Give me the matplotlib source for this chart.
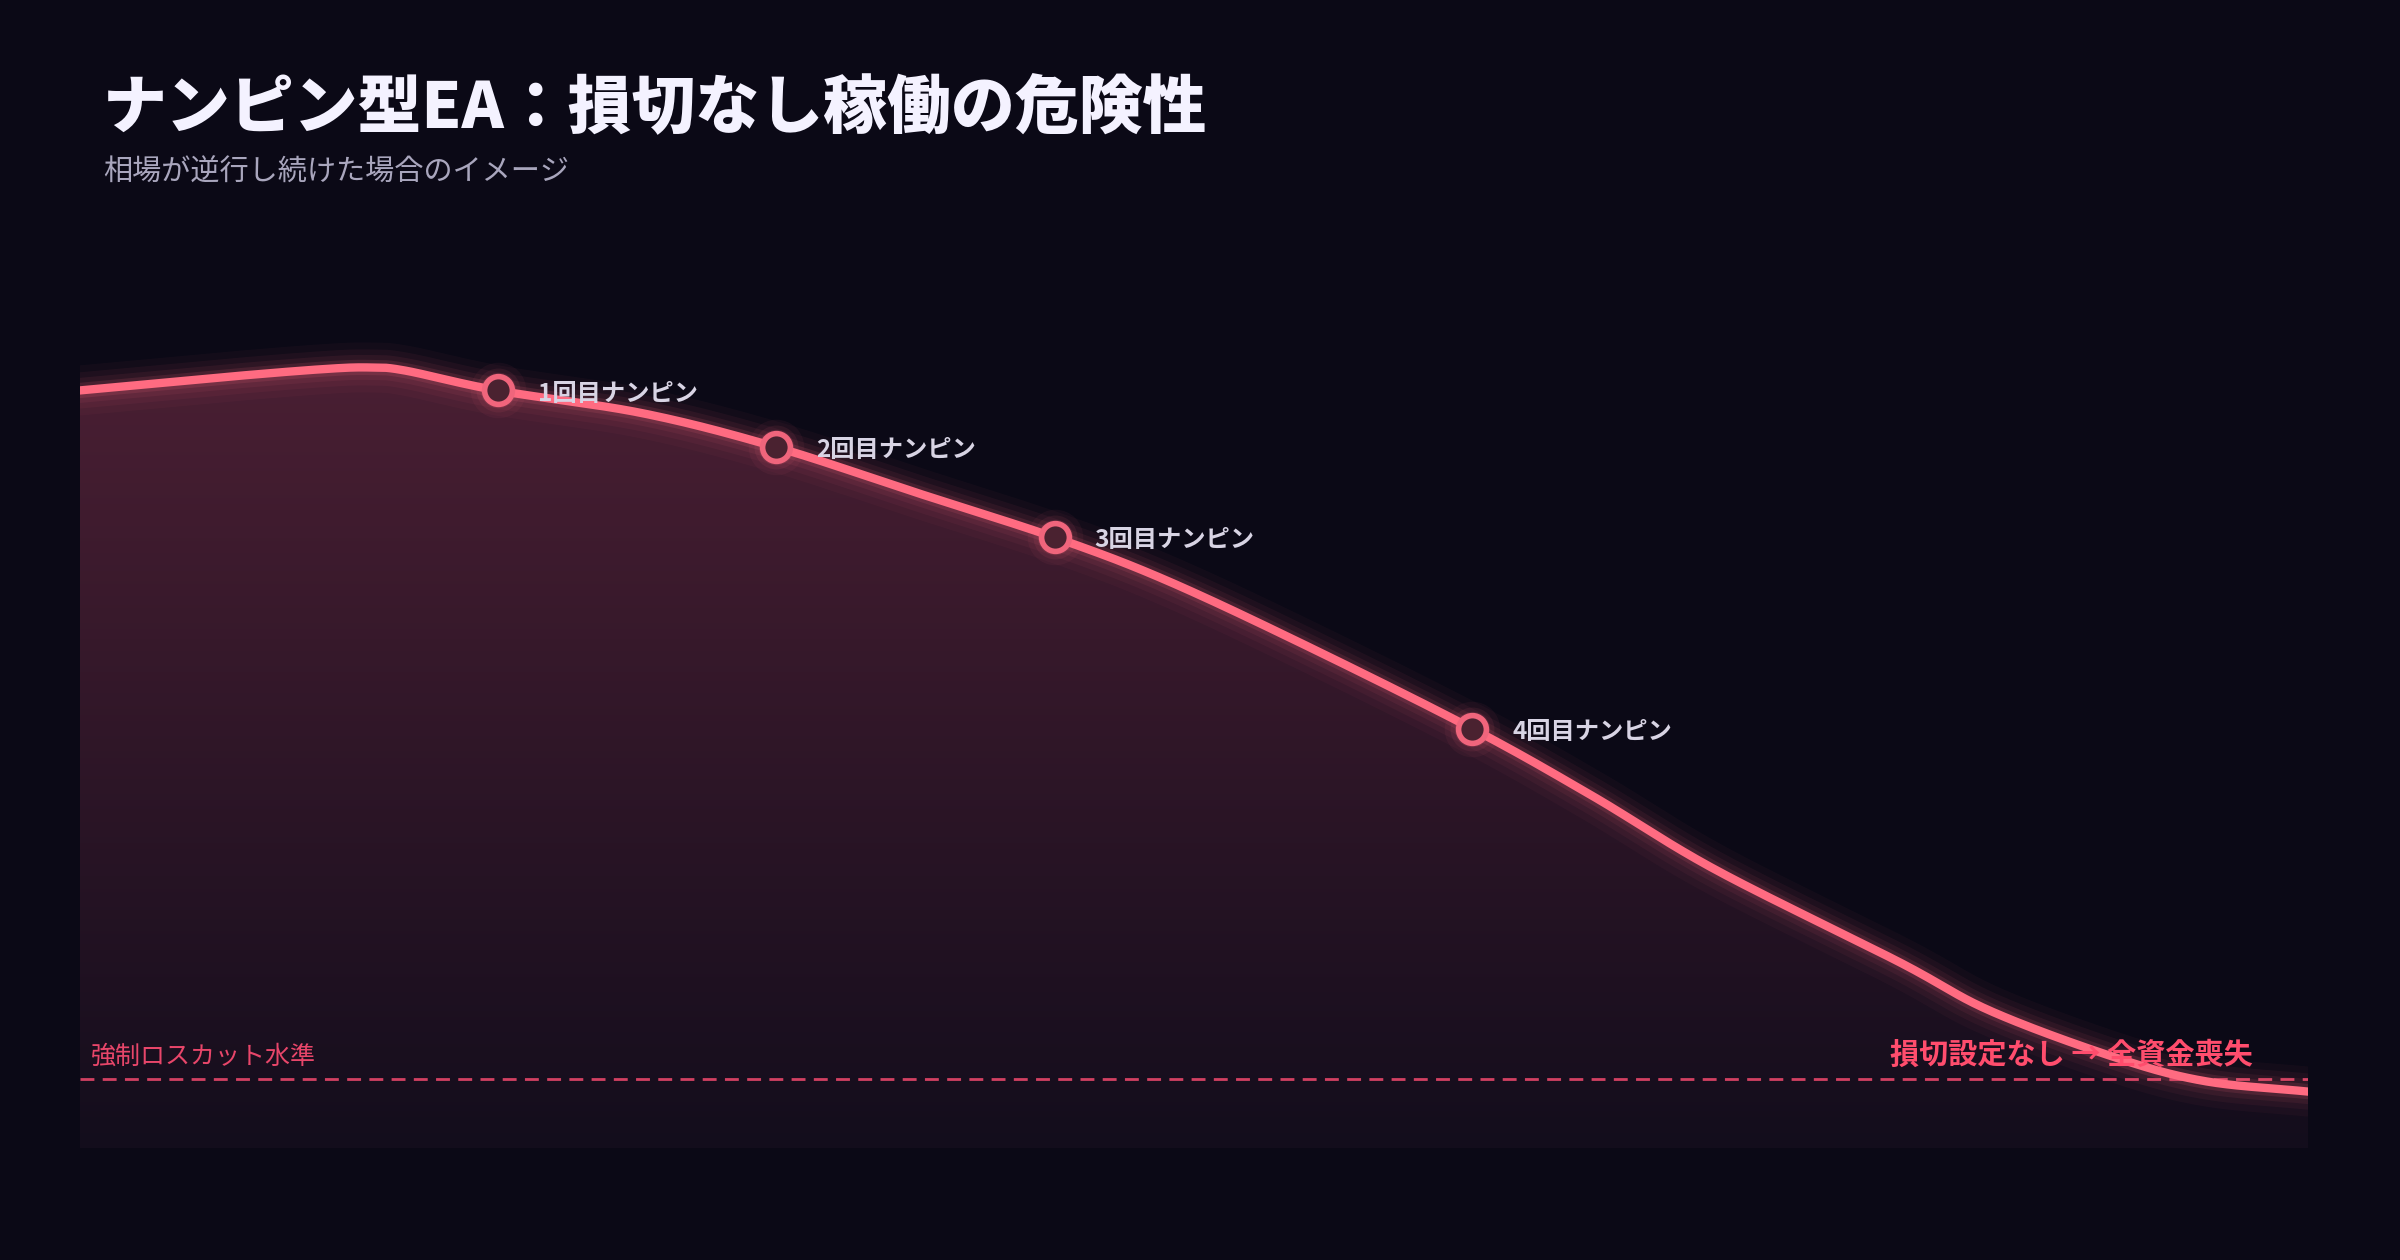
import numpy as np
import matplotlib
matplotlib.use("Agg")
import matplotlib.pyplot as plt
from matplotlib.patches import Polygon
from matplotlib.colors import LinearSegmentedColormap

plt.rcParams['font.family'] = ['Noto Sans CJK JP', 'DejaVu Sans']

days = [0, 6.7, 11.0, 13.0, 14.6, 18.75, 25.3, 31.25, 37.6, 43.75, 48.6, 54.8, 62.5, 67.9, 73.4, 81.6, 85.7, 91.2, 95.3, 100]
balance = [495, 504, 509, 510, 508, 495, 480, 458, 428, 399, 372, 330, 274, 230, 182, 122, 90, 60, 44, 37]
nanpin_idx = [5, 7, 9, 12]
nanpin_labels = ["1回目ナンピン", "2回目ナンピン", "3回目ナンピン", "4回目ナンピン"]
losscut_level = 45
title = "ナンピン型EA：損切なし稼働の危険性"
subtitle = "相場が逆行し続けた場合のイメージ"
losscut_label = "強制ロスカット水準"
end_label = "損切設定なし → 全資金喪失"

BG = "#0b0916"
PINK = "#ff6b81"

def catmull(x, y, n=30):
    x = np.asarray(x, float); y = np.asarray(y, float)
    px = np.concatenate([[2*x[0]-x[1]], x, [2*x[-1]-x[-2]]])
    py = np.concatenate([[2*y[0]-y[1]], y, [2*y[-1]-y[-2]]])
    xs, ys = [], []
    for i in range(1, len(px)-2):
        t = np.linspace(0, 1, n, endpoint=False)
        for arr, out in ((px, xs), (py, ys)):
            p0, p1, p2, p3 = arr[i-1], arr[i], arr[i+1], arr[i+2]
            out.append(0.5*((2*p1) + (-p0+p2)*t + (2*p0-5*p1+4*p2-p3)*t**2 + (-p0+3*p1-3*p2+p3)*t**3))
    xs.append([x[-1]]); ys.append([y[-1]])
    return np.concatenate(xs), np.concatenate(ys)

fig = plt.figure(figsize=(24, 12.6), dpi=100, facecolor=BG)
ax = fig.add_axes([0.0332, 0.0887, 0.9285, 0.729])
ax.set_facecolor(BG)
ax.axis('off')

sx, sy = catmull(days, balance)

grad = np.linspace(0, 1, 256).reshape(-1, 1)
cmap = LinearSegmentedColormap.from_list("g", ["#130d1c", "#4a1f33"])
im = ax.imshow(grad, extent=[0, 100, 0, 510], origin='lower', cmap=cmap, aspect='auto', zorder=1)
poly = Polygon(np.column_stack([np.r_[sx, 100, 0], np.r_[sy, 0, 0]]), closed=True, transform=ax.transData, facecolor='none', edgecolor='none')
ax.add_patch(poly)
im.set_clip_path(poly)
ax.set_xlim(0, 100); ax.set_ylim(0, 600)

for lw, a in [(36, 0.035), (26, 0.05), (18, 0.07), (11, 0.12)]:
    ax.plot(sx, sy, color=PINK, lw=lw, alpha=a, solid_capstyle='round', zorder=3)
ax.plot(sx, sy, color=PINK, lw=6, zorder=4, solid_capstyle='round')

ax.axhline(losscut_level, color="#e8466a", lw=2, ls=(0, (5, 3)), zorder=2, alpha=0.9)
ax.text(0.5, losscut_level + 6, losscut_label, color="#e8466a", fontsize=18, va='bottom', ha='left', zorder=5)
ax.text(97.5, losscut_level + 6, end_label, color="#ff4d6d", fontsize=21, fontweight='bold', va='bottom', ha='right', zorder=5)

for i, lab in zip(nanpin_idx, nanpin_labels):
    x, y = days[i], balance[i]
    for s, a in [(1600, 0.05), (1000, 0.08), (650, 0.12)]:
        ax.scatter([x], [y], s=s, color=PINK, alpha=a, zorder=5, linewidths=0)
    ax.scatter([x], [y], s=400, facecolor="#4a2230", edgecolor="#f0657c", linewidths=4, zorder=6)
    ax.text(x + 1.8, y - 2, lab, color="#d8d4e4", fontsize=17.5, fontweight='bold', va='center', ha='left', zorder=7)

fig.text(0.043, 0.913, title, color="#f4f2ff", fontsize=46, fontweight='heavy', va='center', ha='left')
fig.text(0.043, 0.863, subtitle, color="#a9a6bd", fontsize=21, va='center', ha='left')

fig.savefig("out.png", dpi=100, facecolor=BG)
